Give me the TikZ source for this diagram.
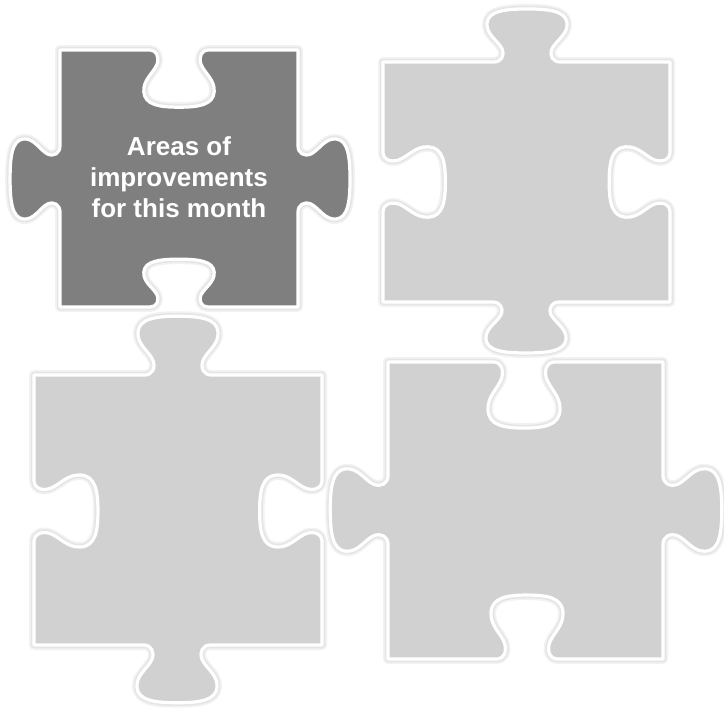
\documentclass[tikz,border=0pt]{standalone}
\usepackage{fontspec}
\setmainfont{Liberation Sans}
\definecolor{darkpc}{HTML}{7F7F7F}
\definecolor{lightpc}{HTML}{D1D1D1}
% point on a knob: cx cy ux uy s ka kb a b
\newcommand\kp[9]{({#1+(#6)*(#8)*(#3)+(#5)*(#7)*(#9)*(#4)},{#2+(#6)*(#8)*(#4)-(#5)*(#7)*(#9)*(#3)})}
% knob: cx cy ux uy s(+1 tab,-1 hole) ka kb
\newcommand\knobpath[7]{-- \kp{#1}{#2}{#3}{#4}{#5}{#6}{#7}{-33}{0}
 .. controls \kp{#1}{#2}{#3}{#4}{#5}{#6}{#7}{-26}{0} and \kp{#1}{#2}{#3}{#4}{#5}{#6}{#7}{-22}{6} .. \kp{#1}{#2}{#3}{#4}{#5}{#6}{#7}{-25}{13}
 .. controls \kp{#1}{#2}{#3}{#4}{#5}{#6}{#7}{-29}{21} and \kp{#1}{#2}{#3}{#4}{#5}{#6}{#7}{-41}{27} .. \kp{#1}{#2}{#3}{#4}{#5}{#6}{#7}{-40}{38}
 .. controls \kp{#1}{#2}{#3}{#4}{#5}{#6}{#7}{-39}{50} and \kp{#1}{#2}{#3}{#4}{#5}{#6}{#7}{-22}{52} .. \kp{#1}{#2}{#3}{#4}{#5}{#6}{#7}{0}{52}
 .. controls \kp{#1}{#2}{#3}{#4}{#5}{#6}{#7}{22}{52} and \kp{#1}{#2}{#3}{#4}{#5}{#6}{#7}{39}{50} .. \kp{#1}{#2}{#3}{#4}{#5}{#6}{#7}{40}{38}
 .. controls \kp{#1}{#2}{#3}{#4}{#5}{#6}{#7}{41}{27} and \kp{#1}{#2}{#3}{#4}{#5}{#6}{#7}{29}{21} .. \kp{#1}{#2}{#3}{#4}{#5}{#6}{#7}{25}{13}
 .. controls \kp{#1}{#2}{#3}{#4}{#5}{#6}{#7}{22}{6} and \kp{#1}{#2}{#3}{#4}{#5}{#6}{#7}{26}{0} .. \kp{#1}{#2}{#3}{#4}{#5}{#6}{#7}{33}{0}}
\edef\pieceA{(60,50) \knobpath{179}{50}{1}{0}{-1}{0.88}{1.1} -- (298,50)
 \knobpath{298}{179}{0}{1}{1}{1}{1} -- (298,307)
 \knobpath{179}{307}{-1}{0}{-1}{0.88}{0.92} -- (60,307)
 \knobpath{60}{179}{0}{-1}{1}{1}{0.96} -- cycle}
\edef\pieceB{(383,62) \knobpath{527}{62}{1}{0}{1}{1}{1.02} -- (670,62)
 \knobpath{670}{182}{0}{1}{-1}{0.88}{1.17} -- (670,302)
 \knobpath{526}{302}{-1}{0}{1}{1}{0.98} -- (383,302)
 \knobpath{383}{182}{0}{-1}{-1}{0.88}{1.2} -- cycle}
\edef\pieceC{(34,375) \knobpath{178}{375}{1}{0}{1}{1}{1.13} -- (322,375)
 \knobpath{322}{511}{0}{1}{-1}{0.9}{1.2} -- (322,645)
 \knobpath{177}{645}{-1}{0}{1}{1}{1.11} -- (34,645)
 \knobpath{34}{511}{0}{-1}{-1}{0.9}{1.23} -- cycle}
\edef\pieceD{(388,362) \knobpath{524}{362}{1}{0}{-1}{0.9}{1.27} -- (663,362)
 \knobpath{663}{510}{0}{1}{1}{1.03}{1.13} -- (663,659)
 \knobpath{527}{659}{-1}{0}{-1}{0.9}{1.23} -- (388,659)
 \knobpath{388}{510}{0}{-1}{1}{1.03}{1.11} -- cycle}
\begin{document}
\begin{tikzpicture}[x=1pt,y=-1pt,
  pc/.style={fill=#1, draw=white, line width=3.2pt, line join=round,
    preaction={draw=black!5, line width=10pt, line join=round},
    preaction={draw=black!10, line width=6.5pt, line join=round}},
  lbl/.style={text=white, font=\bfseries\fontsize{26}{31}\selectfont, align=center}]
\useasboundingbox (0,0) rectangle (724,713);
\path[pc=darkpc] \pieceA;
\path[pc=lightpc] \pieceB;
\path[pc=lightpc] \pieceC;
\path[pc=lightpc] \pieceD;
\node[lbl] (t1) at (179,177) {Areas of\\improvements\\for this month};
\end{tikzpicture}
\end{document}
